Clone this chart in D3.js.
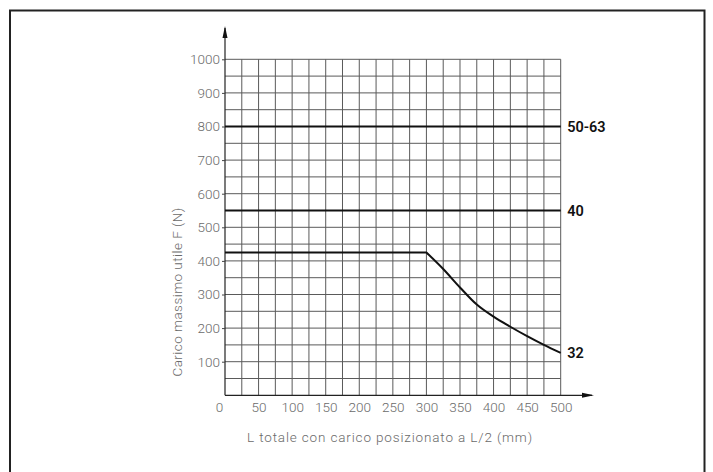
<!DOCTYPE html>
<html>
<head>
<meta charset="utf-8">
<script src="https://cdn.jsdelivr.net/npm/d3@7"></script>
<style>
  html, body { margin: 0; padding: 0; background: #fff; }
  svg { display: block; }
  .tick-label { font-family: Roboto, "DejaVu Sans", sans-serif; font-weight: 300; fill: #6a6a6a; }
  .series-label { font-family: Roboto, "DejaVu Sans", sans-serif; font-weight: 600; fill: #111; }
</style>
</head>
<body>
<svg id="chart" width="713" height="472"></svg>
<script>
// ---- data ----
const xTickValues = [0, 50, 100, 150, 200, 250, 300, 350, 400, 450, 500];
const yTickValues = [100, 200, 300, 400, 500, 600, 700, 800, 900, 1000];
const xLabel = "L totale con carico posizionato a L/2 (mm)";
const yLabel = "Carico massimo utile F (N)";

const seriesNames = ["50-63", "40", "32"];
const lengths5063 = [0, 500];
const loads5063 = [800, 800];
const lengths40 = [0, 500];
const loads40 = [550, 550];
const lengths32 = [0, 300, 325, 350, 375, 400, 425, 450, 475, 500];
const loads32 = [425, 425, 376, 321, 270, 234, 204, 176, 150, 126];

// ---- layout ----
const svg = d3.select("#chart");
const plot = { left: 225, right: 560.7, top: 59.3, bottom: 395.3 };

const x = d3.scaleLinear().domain([0, 500]).range([plot.left, plot.right]);
const y = d3.scaleLinear().domain([0, 1000]).range([plot.bottom, plot.top]);

// frame
svg.append("rect")
  .attr("x", 10).attr("y", 10.5)
  .attr("width", 694.5).attr("height", 480)
  .attr("fill", "none").attr("stroke", "#222").attr("stroke-width", 2);

// grid
const gridX = d3.range(0, 501, 25);
const gridY = d3.range(0, 1001, 50);
const grid = svg.append("g").attr("stroke", "#5a5a5a").attr("stroke-width", 1);
grid.selectAll("line.v").data(gridX.filter(d => d > 0)).join("line")
  .attr("class", "v")
  .attr("x1", d => x(d)).attr("x2", d => x(d))
  .attr("y1", y(0)).attr("y2", y(1000));
grid.selectAll("line.h").data(gridY.filter(d => d > 0)).join("line")
  .attr("class", "h")
  .attr("x1", x(0)).attr("x2", x(500))
  .attr("y1", d => y(d)).attr("y2", d => y(d));

// axes lines with arrows
const axisG = svg.append("g");
axisG.append("line")
  .attr("x1", x(0)).attr("x2", x(0))
  .attr("y1", y(0)).attr("y2", 28)
  .attr("stroke", "#222").attr("stroke-width", 1.2);
axisG.append("path")
  .attr("d", `M${x(0)},26 L${x(0) - 2.5},38 L${x(0) + 2.5},38 Z`)
  .attr("fill", "#111");
axisG.append("line")
  .attr("x1", x(0)).attr("x2", 592)
  .attr("y1", y(0)).attr("y2", y(0))
  .attr("stroke", "#222").attr("stroke-width", 1.2);
axisG.append("path")
  .attr("d", `M594,${y(0)} L582,${y(0) - 2.5} L582,${y(0) + 2.5} Z`)
  .attr("fill", "#111");

// y axis ticks + labels
const yAxis = d3.axisLeft(y).tickValues(yTickValues).tickSize(3).tickPadding(2).tickFormat(d3.format("d"));
const gy = svg.append("g").attr("transform", `translate(${x(0)},0)`).call(yAxis);
gy.select(".domain").remove();
gy.selectAll(".tick line").attr("stroke", "#444");
gy.selectAll(".tick text").attr("class", "tick-label")
  .style("font-size", "13.5px").attr("fill", "#6a6a6a");

// x axis labels
const xAxis = d3.axisBottom(x).tickValues(xTickValues).tickSize(0).tickPadding(7).tickFormat(d3.format("d"));
const gx = svg.append("g").attr("transform", `translate(0,${y(0)})`).call(xAxis);
gx.select(".domain").remove();
gx.selectAll(".tick text").attr("class", "tick-label")
  .style("font-size", "13.5px").attr("fill", "#6a6a6a")
  .attr("dx", d => d === 0 ? -6 : 0);

// series lines
const straight = d3.line().x(d => x(d[0])).y(d => y(d[1]));
const smooth = d3.line().x(d => x(d[0])).y(d => y(d[1])).curve(d3.curveMonotoneX);
function seriesPath(pts) {
  // flat part drawn straight, falling part drawn smooth (sharp corner kept)
  const breakIdx = pts.findIndex((p, i) => i > 0 && p[1] !== pts[0][1]);
  if (breakIdx < 0) return straight(pts);
  return straight(pts.slice(0, breakIdx)) + smooth(pts.slice(breakIdx - 1)).replace(/^M/, "L");
}
const series = [
  { name: seriesNames[0], pts: d3.zip(lengths5063, loads5063) },
  { name: seriesNames[1], pts: d3.zip(lengths40, loads40) },
  { name: seriesNames[2], pts: d3.zip(lengths32, loads32) }
];
svg.append("g").selectAll("path").data(series).join("path")
  .attr("d", d => seriesPath(d.pts))
  .attr("fill", "none").attr("stroke", "#111").attr("stroke-width", 2)
  .attr("stroke-linejoin", "round");

// series labels
svg.append("g").selectAll("text").data(series).join("text")
  .attr("class", "series-label")
  .attr("x", d => x(d.pts[d.pts.length - 1][0]) + 6.5)
  .attr("y", d => y(d.pts[d.pts.length - 1][1]))
  .attr("dy", "0.36em")
  .style("font-size", "14.5px")
  .text(d => d.name);

// axis titles
svg.append("text").attr("class", "tick-label")
  .attr("x", 390).attr("y", 437).attr("dy", "0.35em")
  .attr("text-anchor", "middle").style("font-size", "13.5px")
  .style("letter-spacing", "0.85px")
  .text(xLabel);
svg.append("text").attr("class", "tick-label")
  .attr("transform", `translate(177,292) rotate(-90)`)
  .attr("dy", "0.35em")
  .attr("text-anchor", "middle").style("font-size", "13.5px")
  .style("letter-spacing", "0.45px")
  .text(yLabel);
</script>
</body>
</html>
